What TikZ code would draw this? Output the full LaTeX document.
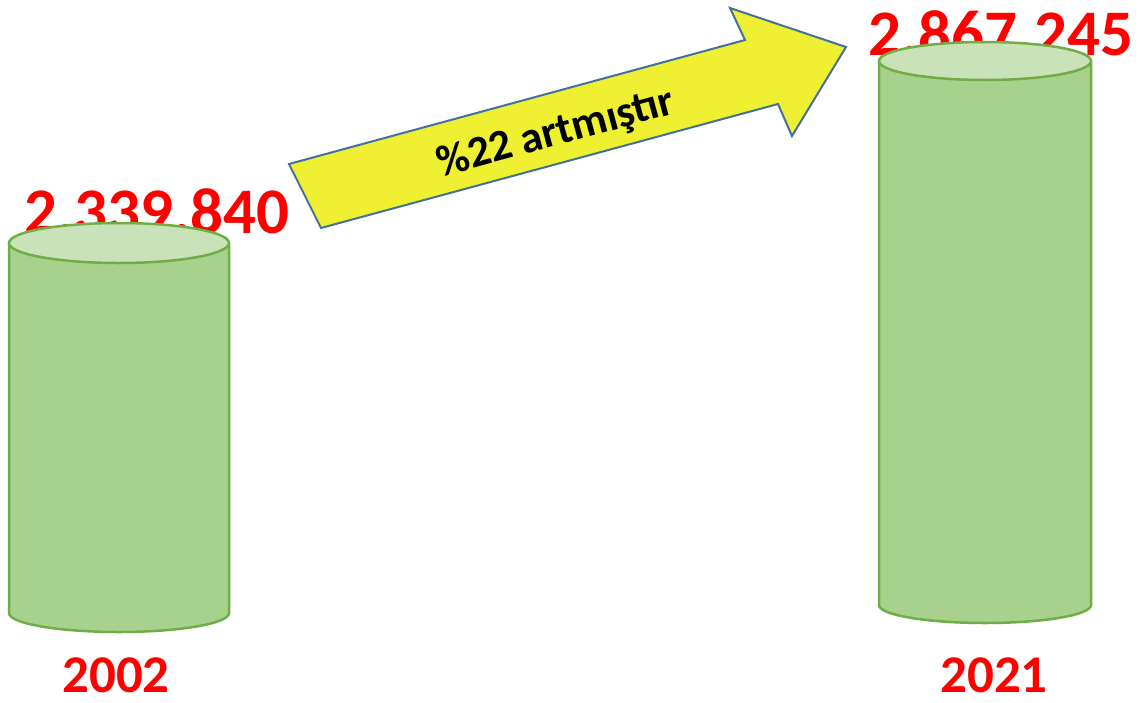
\documentclass[tikz,border=0pt]{standalone}
\usepackage{fontspec}
\setmainfont{Carlito}
\definecolor{cylbody}{HTML}{A9D18E}
\definecolor{cyltop}{HTML}{C9E2B8}
\definecolor{cylline}{HTML}{70AD47}
\definecolor{arrfill}{HTML}{F0F032}
\definecolor{arrline}{HTML}{41719C}
\definecolor{lblred}{HTML}{FF0000}
\tikzset{
  bignum/.style={text=lblred, font=\bfseries\fontsize{65}{65}\selectfont, anchor=base, inner sep=0pt},
  yearlbl/.style={text=lblred, font=\bfseries\fontsize{53}{53}\selectfont, anchor=base, inner sep=0pt},
  cyl/.style={fill=cylbody, draw=cylline, line width=2.5pt, line join=round},
  cyltopst/.style={fill=cyltop, draw=cylline, line width=2.5pt},
  bigarrow/.style={fill=arrfill, draw=arrline, line width=2pt, line join=miter},
  arrlbl/.style={text=black, font=\bfseries\fontsize{44}{44}\selectfont, inner sep=0pt}
}
\begin{document}
\begin{tikzpicture}[x=1pt,y=-1pt]
\useasboundingbox (0,0) rectangle (1138,702);
% value labels (behind cylinders)
\node[bignum] (v2002) at (157,233) {2.339.840};
\node[bignum] (v2021) at (1001,55) {2.867.245};
% cylinder 2002
\draw[cyl] (9,243) -- (9,613) arc[start angle=180, end angle=360, x radius=110pt, y radius=19pt] -- (229,243) -- cycle;
\draw[cyltopst] (119,243) ellipse [x radius=110pt, y radius=20pt];
% cylinder 2021
\draw[cyl] (879,61) -- (879,605) arc[start angle=180, end angle=360, x radius=106pt, y radius=18pt] -- (1091,61) -- cycle;
\draw[cyltopst] (985,61) ellipse [x radius=106pt, y radius=19pt];
% arrow
\draw[bigarrow] (289,164) -- (745,40) -- (730,8) -- (846,47) -- (792,136) -- (778,104) -- (321,228) -- cycle;
\node[arrlbl, rotate=15.2] (pct) at (556,134) {\%22 artmıştır};
% year labels
\node[yearlbl] (y2002) at (116,692) {2002};
\node[yearlbl] (y2021) at (994,692) {2021};
\end{tikzpicture}
\end{document}
